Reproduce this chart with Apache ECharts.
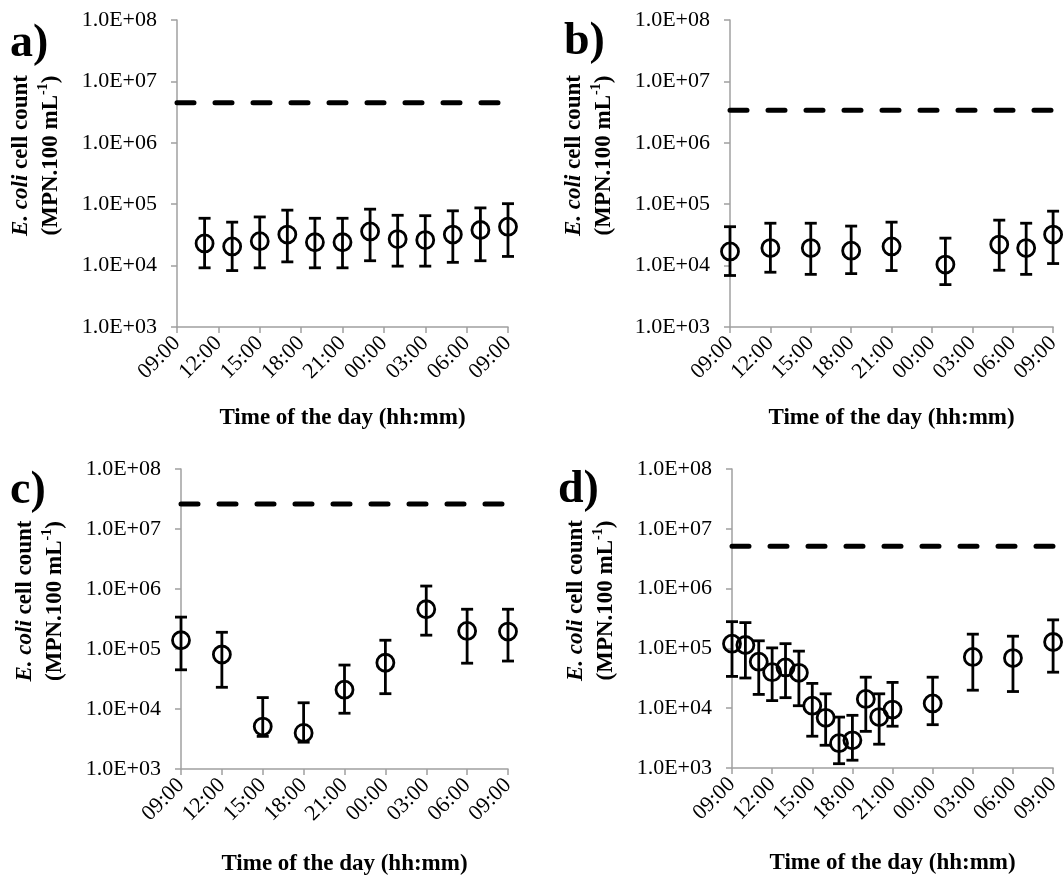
<!DOCTYPE html>
<html>
<head>
<meta charset="utf-8">
<script src="https://cdn.jsdelivr.net/npm/echarts@6/dist/echarts.min.js"></script>
<style>
html,body{margin:0;padding:0;background:#fff;}
#chart{width:1063px;height:879px;}
</style>
</head>
<body>
<div id="chart"></div>
<script>
// ---------- data ----------
const xTickLabels = ["09:00","12:00","15:00","18:00","21:00","00:00","03:00","06:00","09:00"];
const yTickLabels = ["1.0E+03","1.0E+04","1.0E+05","1.0E+06","1.0E+07","1.0E+08"];
const panelLabels = ["a)","b)","c)","d)"];

const timesA = ["11:00","13:00","15:00","17:00","19:00","21:00","23:00","01:00","03:00","05:00","07:00","09:00"];
const meanA  = [2.3e4, 2.05e4, 2.5e4, 3.2e4, 2.4e4, 2.4e4, 3.6e4, 2.7e4, 2.6e4, 3.2e4, 3.8e4, 4.3e4];
const upperA = [5.9e4, 5.1e4, 6.2e4, 8.0e4, 5.9e4, 5.9e4, 8.3e4, 6.6e4, 6.5e4, 7.8e4, 8.7e4, 1.02e5];
const lowerA = [9.2e3, 8.3e3, 9.2e3, 1.15e4, 9.2e3, 9.2e3, 1.2e4, 9.8e3, 9.8e3, 1.13e4, 1.2e4, 1.41e4];
const limitA = 4.5e6;

const timesB = ["09:00","12:00","15:00","18:00","21:00","01:00","05:00","07:00","09:00"];
const meanB  = [1.7e4, 1.93e4, 1.93e4, 1.75e4, 2.05e4, 1.04e4, 2.2e4, 1.93e4, 3.2e4];
const upperB = [4.3e4, 4.9e4, 4.9e4, 4.4e4, 5.1e4, 2.8e4, 5.5e4, 4.9e4, 7.7e4];
const lowerB = [6.9e3, 7.8e3, 7.2e3, 7.4e3, 8.3e3, 4.9e3, 8.4e3, 7.2e3, 1.08e4];
const limitB = 3.4e6;

const timesC = ["09:00","12:00","15:00","18:00","21:00","00:00","03:00","06:00","09:00"];
const meanC  = [1.4e5, 8.1e4, 5.1e3, 4.0e3, 2.1e4, 5.9e4, 4.6e5, 2.0e5, 1.95e5];
const upperC = [3.4e5, 1.9e5, 1.55e4, 1.27e4, 5.4e4, 1.4e5, 1.12e6, 4.6e5, 4.6e5];
const lowerC = [4.5e4, 2.3e4, 3.5e3, 2.8e3, 8.5e3, 1.8e4, 1.7e5, 5.8e4, 6.3e4];
const limitC = 2.6e7;

const timesD = ["09:00","10:00","11:00","12:00","13:00","14:00","15:00","16:00","17:00","18:00","19:00","20:00","21:00","00:00","03:00","06:00","09:00"];
const meanD  = [1.2e5, 1.14e5, 6.0e4, 4.0e4, 4.8e4, 3.9e4, 1.1e4, 6.9e3, 2.6e3, 2.9e3, 1.43e4, 7.1e3, 9.5e3, 1.2e4, 7.2e4, 6.9e4, 1.28e5];
const upperD = [2.8e5, 2.7e5, 1.34e5, 1.02e5, 1.2e5, 9.0e4, 2.6e4, 1.74e4, 7.1e3, 7.6e3, 3.3e4, 1.74e4, 2.7e4, 3.3e4, 1.73e5, 1.6e5, 3.0e5];
const lowerD = [3.4e4, 3.2e4, 1.7e4, 1.34e4, 1.5e4, 1.1e4, 3.4e3, 2.4e3, 1.18e3, 1.35e3, 4.1e3, 2.5e3, 5.0e3, 5.3e3, 2.0e4, 1.9e4, 4.0e4];
const limitD = 5.1e6;

// ---------- helpers ----------
const FONT = '"Liberation Serif", "Times New Roman", serif';

// hours elapsed since the first 09:00, allowing the day to roll over
function toHours(list) {
  let day = 0, prev = -1;
  return list.map(t => {
    const [h, m] = t.split(':').map(Number);
    let v = ((h - 9 + 24) % 24) + m / 60 + 24 * day;
    if (v <= prev) { day += 1; v += 24; }
    prev = v;
    return v;
  });
}

const panels = [
  {times: timesA, mean: meanA, upper: upperA, lower: lowerA, limit: limitA},
  {times: timesB, mean: meanB, upper: upperB, lower: lowerB, limit: limitB},
  {times: timesC, mean: meanC, upper: upperC, lower: lowerC, limit: limitC},
  {times: timesD, mean: meanD, upper: upperD, lower: lowerD, limit: limitD}
];

const grids = [
  {left: 177, top: 20, width: 331, height: 307},
  {left: 730, top: 20, width: 330, height: 307},
  {left: 181, top: 469, width: 327, height: 300},
  {left: 732, top: 469, width: 323, height: 299}
];
const labelPos = [[10, 48], [564, 46], [10, 495], [558, 494]];
const nameGaps = [80, 80, 84, 84];

const axisColor = '#a0a0a0';

const xAxes = grids.map((g, i) => ({
  gridIndex: i, type: 'value', min: 0, max: 24, interval: 3,
  axisLine: {show: true, onZero: false, lineStyle: {color: axisColor, width: 1.5}},
  axisTick: {show: true, length: 6, lineStyle: {color: axisColor, width: 1.5}},
  axisLabel: {
    rotate: 45, margin: 13, color: '#000', fontFamily: FONT, fontSize: 22,
    formatter: v => xTickLabels[Math.round(v / 3)]
  },
  splitLine: {show: false},
  name: 'Time of the day (hh:mm)', nameLocation: 'middle', nameGap: nameGaps[i],
  nameTextStyle: {color: '#000', fontFamily: FONT, fontWeight: 'bold', fontSize: 23}
}));

const yAxes = grids.map((g, i) => ({
  gridIndex: i, type: 'log', logBase: 10, min: 1e3, max: 1e8, splitNumber: 5,
  axisLine: {show: true, lineStyle: {color: axisColor, width: 1.5}},
  axisTick: {show: true, length: 6, lineStyle: {color: axisColor, width: 1.5}},
  axisLabel: {
    margin: 20, color: '#000', fontFamily: FONT, fontSize: 22,
    formatter: v => yTickLabels[Math.round(Math.log10(v)) - 3]
  },
  splitLine: {show: false},
  minorTick: {show: false}
}));

function renderErr(params, api) {
  const x = api.value(0);
  const lo = api.coord([x, api.value(1)]);
  const hi = api.coord([x, api.value(2)]);
  const w = 6;
  const st = {stroke: '#000', lineWidth: 2.8, fill: null};
  return {
    type: 'group',
    children: [
      {type: 'line', shape: {x1: lo[0], y1: lo[1], x2: hi[0], y2: hi[1]}, style: st},
      {type: 'line', shape: {x1: lo[0] - w, y1: lo[1], x2: lo[0] + w, y2: lo[1]}, style: st},
      {type: 'line', shape: {x1: hi[0] - w, y1: hi[1], x2: hi[0] + w, y2: hi[1]}, style: st}
    ]
  };
}

const series = [];
panels.forEach((p, i) => {
  const xs = toHours(p.times);
  series.push({
    type: 'line', xAxisIndex: i, yAxisIndex: i, symbol: 'none', silent: true,
    data: [[0, p.limit], [24, p.limit]],
    lineStyle: {color: '#000', width: 5, type: [17, 21], cap: 'round'},
    z: 2
  });
  series.push({
    type: 'custom', xAxisIndex: i, yAxisIndex: i, renderItem: renderErr,
    data: xs.map((x, k) => [x, p.lower[k], p.upper[k]]),
    encode: {x: 0, y: [1, 2]}, z: 3, clip: false
  });
  series.push({
    type: 'scatter', xAxisIndex: i, yAxisIndex: i, symbol: 'circle', symbolSize: 17,
    data: xs.map((x, k) => [x, p.mean[k]]),
    itemStyle: {color: 'rgba(0,0,0,0)', borderColor: '#000', borderWidth: 2.8, opacity: 1},
    z: 4, clip: false
  });
});

const graphics = [];
grids.forEach((g, i) => {
  graphics.push({
    type: 'text', left: labelPos[i][0], top: labelPos[i][1] - 27,
    style: {text: panelLabels[i], font: 'bold 46px ' + FONT, fill: '#000'}
  });
  graphics.push({
    type: 'text', x: g.left - 141, y: g.top + g.height / 2 - 18, rotation: Math.PI / 2,
    style: {
      text: '{i|E. coli}{b| cell count}\n{b|(MPN.100 mL}{s|-1}{b|)}',
      align: 'center', verticalAlign: 'middle', fill: '#000',
      font: 'bold 23px ' + FONT,
      rich: {
        i: {fontFamily: FONT, fontSize: 23, fontWeight: 'bold', fontStyle: 'italic', lineHeight: 30},
        b: {fontFamily: FONT, fontSize: 23, fontWeight: 'bold', lineHeight: 30},
        s: {fontFamily: FONT, fontSize: 14, fontWeight: 'bold', verticalAlign: 'top', lineHeight: 30}
      }
    }
  });
});

const chart = echarts.init(document.getElementById('chart'), null, {renderer: 'canvas'});
chart.setOption({
  animation: false,
  backgroundColor: '#fff',
  grid: grids,
  xAxis: xAxes,
  yAxis: yAxes,
  series: series,
  graphic: graphics
});
</script>
</body>
</html>
